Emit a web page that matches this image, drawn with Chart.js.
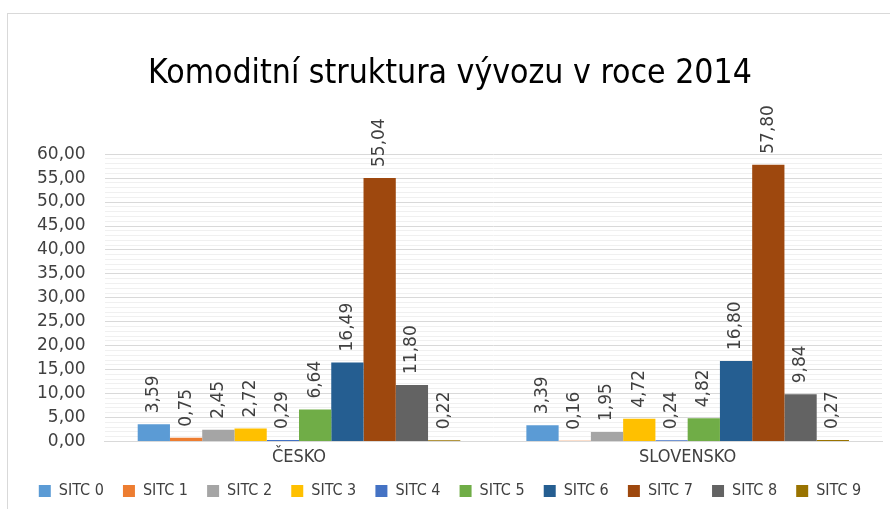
<!DOCTYPE html>
<html>
<head>
<meta charset="utf-8">
<script src="https://cdn.jsdelivr.net/npm/chart.js@4.4.1/dist/chart.umd.min.js"></script>
<style>
  html, body { margin: 0; padding: 0; background: #fff; }
  #frame {
    position: absolute; left: 7px; top: 13px; width: 883px; height: 496px;
    border-left: 1px solid #d9d9d9; border-top: 1px solid #d9d9d9;
    box-sizing: border-box;
  }
  #chart { display: block; }
</style>
</head>
<body>
<div id="frame"><canvas id="chart" width="882" height="495"></canvas></div>
<script>
const zeme = ['ČESKO', 'SLOVENSKO'];
const skupiny = ['SITC 0', 'SITC 1', 'SITC 2', 'SITC 3', 'SITC 4', 'SITC 5', 'SITC 6', 'SITC 7', 'SITC 8', 'SITC 9'];
const cesko = [3.59, 0.75, 2.45, 2.72, 0.29, 6.64, 16.49, 55.04, 11.80, 0.22];
const slovensko = [3.39, 0.16, 1.95, 4.72, 0.24, 4.82, 16.80, 57.80, 9.84, 0.27];
const barvy = ['#5b9bd5', '#ed7d31', '#a5a5a5', '#ffc000', '#4472c4', '#70ad47', '#255e91', '#9e480e', '#636363', '#997300'];

const carka = v => v.toFixed(2).replace('.', ',');

// popisky hodnot otocene o 90 stupnu nad sloupci
const popisky = {
  id: 'popisky',
  afterDatasetsDraw(chart) {
    const ctx = chart.ctx;
    ctx.save();
    ctx.font = '17px "DejaVu Sans"';
    ctx.fillStyle = '#404040';
    ctx.textAlign = 'left';
    ctx.textBaseline = 'middle';
    chart.data.datasets.forEach((ds, i) => {
      chart.getDatasetMeta(i).data.forEach((bar, j) => {
        ctx.save();
        ctx.translate(bar.x, bar.y - 11);
        ctx.rotate(-Math.PI / 2);
        ctx.fillText(carka(ds.data[j]), 0, 0);
        ctx.restore();
      });
    });
    ctx.restore();
  }
};

const datasets = skupiny.map((s, i) => ({
  label: s,
  data: [cesko[i], slovensko[i]],
  backgroundColor: barvy[i],
  borderWidth: 0
}));

const zakladniLegenda = Chart.defaults.plugins.legend.labels.generateLabels;

new Chart(document.getElementById('chart'), {
  type: 'bar',
  data: { labels: zeme, datasets },
  options: {
    responsive: false,
    animation: false,
    layout: { padding: { left: 10, right: 8, top: 0, bottom: 0 } },
    datasets: { bar: { barPercentage: 1, categoryPercentage: 0.83 } },
    plugins: {
      title: {
        display: true,
        text: 'Komoditní struktura vývozu v roce 2014',
        color: '#000',
        font: { family: '"DejaVu Sans Condensed", "DejaVu Sans"', size: 33.5, weight: 'normal' },
        padding: { top: 40, bottom: 60 }
      },
      legend: {
        position: 'bottom',
        labels: {
          boxWidth: 12, boxHeight: 12, padding: 10,
          color: '#404040',
          font: { family: '"DejaVu Sans Condensed", "DejaVu Sans"', size: 16 },
          // vetsi rozestupy mezi polozkami jako v Excelu
          generateLabels: chart => zakladniLegenda(chart).map((l, i, a) => {
            if (i < a.length - 1) l.text = l.text + '  ';
            return l;
          })
        }
      },
      tooltip: { enabled: false }
    },
    scales: {
      x: {
        grid: { display: false, drawTicks: false },
        border: { color: '#d9d9d9' },
        ticks: { color: '#404040', font: { family: '"DejaVu Sans Condensed", "DejaVu Sans"', size: 18 }, padding: 5 }
      },
      y: {
        min: 0, max: 60,
        border: { display: false },
        grid: {
          color: c => (c.tick && c.tick.value % 5 === 0) ? '#d9d9d9' : '#f0f0f0',
          drawTicks: false
        },
        ticks: {
          stepSize: 1,
          autoSkip: false,
          padding: 19,
          color: '#404040',
          font: { family: '"DejaVu Sans"', size: 17 },
          callback: v => (v % 5 === 0) ? carka(v) : ''
        }
      }
    }
  },
  plugins: [popisky]
});
</script>
</body>
</html>
